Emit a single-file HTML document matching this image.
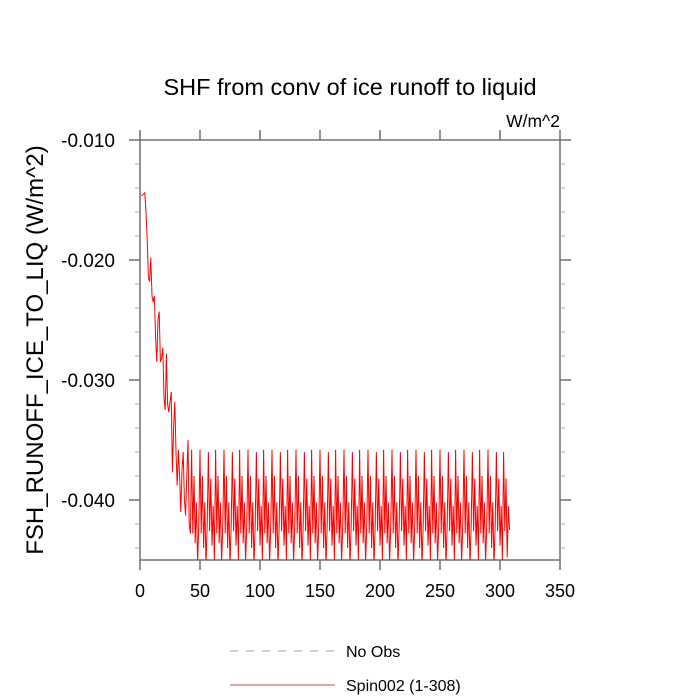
<!DOCTYPE html>
<html><head><meta charset="utf-8"><style>
html,body{margin:0;padding:0;background:#fff;}
svg{display:block;font-family:"Liberation Sans",sans-serif;}
</style></head><body>
<svg id="chart" width="700" height="700" viewBox="0 0 700 700">
<rect width="700" height="700" fill="#fff"/>
<text x="350" y="95" font-size="23.5" text-anchor="middle">SHF from conv of ice runoff to liquid</text>
<text x="560" y="127" font-size="17.5" text-anchor="end">W/m^2</text>
<text transform="translate(43,350) rotate(-90)" font-size="24" text-anchor="middle">FSH_RUNOFF_ICE_TO_LIQ  (W/m^2)</text>
<g id="axes"></g>
<g id="series"></g>
<g>
<line x1="230" y1="651" x2="335" y2="651" stroke="#999" stroke-dasharray="8,8"/>
<text x="346" y="657" font-size="16">No Obs</text>
<line x1="230" y1="685" x2="335" y2="685" stroke="#d04050"/>
<text x="346" y="691" font-size="16">Spin002 (1-308)</text>
</g>
</svg>
<script>
const xTicks=[0,50,100,150,200,250,300,350];
const yTicks=[-0.010,-0.020,-0.030,-0.040];
const yTickLabels=["-0.010","-0.020","-0.030","-0.040"];
const spin002=[
-0.0146,-0.0146,-0.0145,-0.0144,-0.0160,-0.0183,-0.0215,-0.0218,-0.0198,-0.0230,
-0.0235,-0.0230,-0.0265,-0.0285,-0.0250,-0.0243,-0.0285,-0.0282,-0.0273,-0.0315,
-0.0325,-0.0278,-0.0320,-0.0327,-0.0318,-0.0310,-0.0377,-0.0340,-0.0318,-0.0360,
-0.0388,-0.0358,-0.0380,-0.0410,-0.0375,-0.0360,-0.0400,-0.0413,-0.0380,-0.0350,
-0.0420,-0.0428,
-0.0358,-0.0428,-0.0380,-0.0436,-0.0402,-0.0452,-0.0420,-0.0358,-0.0428,-0.0380,-0.0440,-0.0402,-0.0455,-0.0420,-0.0360,-0.0426,-0.0382,-0.0438,-0.0405,-0.0450,
-0.0358,-0.0428,-0.0380,-0.0436,-0.0402,-0.0452,-0.0420,-0.0358,-0.0428,-0.0380,-0.0440,-0.0402,-0.0455,-0.0420,-0.0360,-0.0426,-0.0382,-0.0438,-0.0405,-0.0450,
-0.0358,-0.0428,-0.0380,-0.0436,-0.0402,-0.0452,-0.0420,-0.0358,-0.0428,-0.0380,-0.0440,-0.0402,-0.0455,-0.0420,-0.0360,-0.0426,-0.0382,-0.0438,-0.0405,-0.0450,
-0.0358,-0.0428,-0.0380,-0.0436,-0.0402,-0.0452,-0.0420,-0.0358,-0.0428,-0.0380,-0.0440,-0.0402,-0.0455,-0.0420,-0.0360,-0.0426,-0.0382,-0.0438,-0.0405,-0.0450,
-0.0358,-0.0428,-0.0380,-0.0436,-0.0402,-0.0452,-0.0420,-0.0358,-0.0428,-0.0380,-0.0440,-0.0402,-0.0455,-0.0420,-0.0360,-0.0426,-0.0382,-0.0438,-0.0405,-0.0450,
-0.0358,-0.0428,-0.0380,-0.0436,-0.0402,-0.0452,-0.0420,-0.0358,-0.0428,-0.0380,-0.0440,-0.0402,-0.0455,-0.0420,-0.0360,-0.0426,-0.0382,-0.0438,-0.0405,-0.0450,
-0.0358,-0.0428,-0.0380,-0.0436,-0.0402,-0.0452,-0.0420,-0.0358,-0.0428,-0.0380,-0.0440,-0.0402,-0.0455,-0.0420,-0.0360,-0.0426,-0.0382,-0.0438,-0.0405,-0.0450,
-0.0358,-0.0428,-0.0380,-0.0436,-0.0402,-0.0452,-0.0420,-0.0358,-0.0428,-0.0380,-0.0440,-0.0402,-0.0455,-0.0420,-0.0360,-0.0426,-0.0382,-0.0438,-0.0405,-0.0450,
-0.0358,-0.0428,-0.0380,-0.0436,-0.0402,-0.0452,-0.0420,-0.0358,-0.0428,-0.0380,-0.0440,-0.0402,-0.0455,-0.0420,-0.0360,-0.0426,-0.0382,-0.0438,-0.0405,-0.0450,
-0.0358,-0.0428,-0.0380,-0.0436,-0.0402,-0.0452,-0.0420,-0.0358,-0.0428,-0.0380,-0.0440,-0.0402,-0.0455,-0.0420,-0.0360,-0.0426,-0.0382,-0.0438,-0.0405,-0.0450,
-0.0358,-0.0428,-0.0380,-0.0436,-0.0402,-0.0452,-0.0420,-0.0358,-0.0428,-0.0380,-0.0440,-0.0402,-0.0455,-0.0420,-0.0360,-0.0426,-0.0382,-0.0438,-0.0405,-0.0450,
-0.0358,-0.0428,-0.0380,-0.0436,-0.0402,-0.0452,-0.0420,-0.0358,-0.0428,-0.0380,-0.0440,-0.0402,-0.0455,-0.0420,-0.0360,-0.0426,-0.0382,-0.0438,-0.0405,-0.0450,
-0.0358,-0.0428,-0.0380,-0.0436,-0.0402,-0.0452,-0.0420,-0.0358,-0.0428,-0.0380,-0.0440,-0.0402,-0.0455,-0.0420,-0.0360,-0.0426,-0.0382,-0.0438,-0.0405,-0.0450,
-0.0360,-0.0426,-0.0382,-0.0448,-0.0405,-0.0425
];
const X0=140,X1=560,Y0=140,Y1=560;
const xMin=0,xMax=350,yMax=-0.010,yMin=-0.045;
function sx(v){return X0+(v-xMin)/(xMax-xMin)*(X1-X0);}
function sy(v){return Y0+(yMax-v)/(yMax-yMin)*(Y1-Y0);}
const NS="http://www.w3.org/2000/svg";
const axes=document.getElementById('axes');
const AX='#6e6e6e';
function mk(tag,attrs,parent){const e=document.createElementNS(NS,tag);for(const k in attrs)e.setAttribute(k,attrs[k]);parent.appendChild(e);return e;}
const frame=mk('rect',{x:X0,y:Y0,width:X1-X0,height:Y1-Y0,fill:'none',stroke:AX,'stroke-width':1.5},axes);


xTicks.forEach(v=>{
  const x=sx(v);
  const t1=mk('line',{x1:x,y1:Y1,x2:x,y2:Y1+10,stroke:AX,'stroke-width':1.5},axes);
  
  
  const t2=mk('line',{x1:x,y1:Y0,x2:x,y2:Y0-10,stroke:AX,'stroke-width':1.5},axes);
  
  
  const t=mk('text',{x:x,y:Y1+37,'font-size':18,'text-anchor':'middle'},axes);
  t.textContent=String(v);
  
  
});
for(let i=0;i<=17;i++){
  const v=-0.010-i*0.002;if(v<yMin-1e-9)break;
  const major=(i%5===0);const L=major?11:5;const y=sy(v);
  const t1=mk('line',{x1:X0,y1:y,x2:X0-L,y2:y,stroke:major?AX:'#aaa','stroke-width':major?1.5:1},axes);
  
  
  const t2=mk('line',{x1:X1,y1:y,x2:X1+L,y2:y,stroke:major?AX:'#aaa','stroke-width':major?1.5:1},axes);
  
  
}
yTicks.forEach((v,i)=>{
  const t=mk('text',{x:X0-25,y:sy(v)+7,'font-size':19,'text-anchor':'end'},axes);
  t.textContent=yTickLabels[i];
  
  
});
const cp=mk('clipPath',{id:'clip'},document.getElementById('chart'));
mk('rect',{x:X0,y:Y0,width:X1-X0,height:Y1-Y0},cp);
const pts=spin002.map((v,i)=>sx(i+1)+','+sy(v)).join(' ');
const line=mk('polyline',{points:pts,fill:'none',stroke:'#ff0000','stroke-width':1,'clip-path':'url(#clip)'},document.getElementById('series'));


</script>
</body></html>
